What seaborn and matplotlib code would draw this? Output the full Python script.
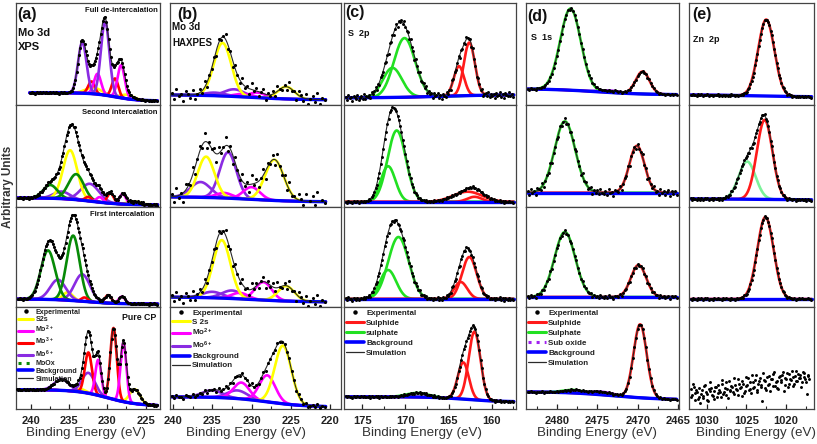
import numpy as np
import matplotlib
matplotlib.use("Agg")
import matplotlib.pyplot as plt
import seaborn as sns
from matplotlib.lines import Line2D
from matplotlib.ticker import MultipleLocator

sns.set_style("white")
plt.rcParams['font.family'] = ['Liberation Sans', 'DejaVu Sans']
plt.rcParams['mathtext.default'] = 'regular'

W, H = 817, 444

# ---------------- colours ----------------
COL = {"S2s": "#FFFF00", "Mo2": "#FF00FF", "Mo3": "#FF0000", "Mo6": "#8A2BE2",
       "MoOx": "#078A07", "sulphide": "#FF1A1A", "sulphate": "#22E022",
       "suboxide": "#A020F0", "Zn1": "#FF1A1A", "Zn2": "#7CF29A"}
BG_COL = "#0000FF"
SIM_COL = "#2a2a2a"

# ---------------- data (peak: component, centre eV, height, FWHM eV) ----------------
# background: (level at high BE, level at low BE, step centre, step width)
A1_PEAKS = [("S2s", 231.8, 0.06, 2.5), ("S2s", 227.4, 0.04, 2.0),
            ("Mo3", 232.1, 0.12, 1.0), ("Mo3", 229.0, 0.18, 1.0),
            ("Mo2", 231.3, 0.20, 1.1), ("Mo2", 228.2, 0.32, 1.1),
            ("Mo6", 233.3, 0.50, 1.3), ("Mo6", 230.3, 0.72, 1.3)]
A1_BG = (0.12, 0.04, 229.0, 1.5)
A2_PEAKS = [("Mo6", 236.0, 0.07, 2.5), ("Mo6", 232.3, 0.17, 2.8),
            ("S2s", 234.9, 0.48, 2.2), ("S2s", 226.5, 0.03, 2.0),
            ("MoOx", 237.5, 0.13, 2.2), ("MoOx", 234.1, 0.25, 2.4),
            ("Mo3", 232.5, 0.04, 1.0), ("Mo3", 229.6, 0.10, 1.0),
            ("Mo2", 231.0, 0.05, 1.0), ("Mo2", 228.0, 0.10, 1.0)]
A2_BG = (0.09, 0.02, 232.0, 2.0)
A3_PEAKS = [("S2s", 235.2, 0.08, 1.5),
            ("Mo6", 236.5, 0.20, 2.4), ("Mo6", 233.3, 0.27, 2.4),
            ("MoOx", 237.8, 0.49, 2.2), ("MoOx", 234.5, 0.65, 2.0),
            ("Mo3", 233.0, 0.04, 1.0), ("Mo3", 229.9, 0.08, 1.0),
            ("Mo2", 228.1, 0.07, 1.0)]
A3_BG = (0.08, 0.03, 233.0, 2.0)
A4_PEAKS = [("S2s", 226.4, 0.14, 1.6), ("S2s", 233.5, 0.03, 1.5),
            ("Mo6", 236.0, 0.11, 2.3), ("Mo6", 232.5, 0.20, 2.0),
            ("Mo3", 232.5, 0.40, 1.1), ("Mo3", 229.2, 0.70, 1.0),
            ("Mo2", 231.2, 0.35, 0.9), ("Mo2", 227.9, 0.58, 0.9)]
A4_BG = (0.19, 0.03, 230.0, 2.0)

B1_PEAKS = [("Mo6", 234.7, 0.03, 3.0), ("Mo6", 232.2, 0.07, 3.0),
            ("Mo2", 229.3, 0.05, 2.5), ("Mo2", 231.0, 0.03, 2.5),
            ("S2s", 233.7, 0.52, 2.6), ("S2s", 225.6, 0.12, 2.5)]
B1_BG = (0.10, 0.05, 230.0, 3.0)
B2_PEAKS = [("Mo6", 236.5, 0.15, 3.0), ("Mo6", 233.0, 0.45, 2.5),
            ("Mo2", 230.0, 0.12, 2.5), ("Mo2", 233.5, 0.05, 2.5),
            ("S2s", 235.8, 0.40, 2.5), ("S2s", 227.1, 0.40, 2.8)]
B2_BG = (0.10, 0.05, 230.0, 3.0)
B3_PEAKS = [("Mo6", 235.0, 0.06, 3.0), ("Mo6", 232.5, 0.08, 3.0),
            ("Mo2", 228.5, 0.18, 2.5), ("Mo2", 231.5, 0.06, 2.5),
            ("S2s", 233.8, 0.58, 2.6), ("S2s", 225.6, 0.15, 2.5)]
B3_BG = (0.10, 0.05, 230.0, 3.0)
B4_PEAKS = [("Mo6", 231.8, 0.08, 3.0), ("Mo6", 235.0, 0.07, 3.0),
            ("Mo2", 228.0, 0.26, 2.4), ("Mo2", 231.3, 0.16, 2.4),
            ("S2s", 226.0, 0.57, 2.5)]
B4_BG = (0.12, 0.02, 228.0, 2.5)

C1_PEAKS = [("sulphate", 170.1, 0.58, 2.9), ("sulphate", 171.5, 0.29, 2.6),
            ("sulphide", 162.6, 0.52, 1.5), ("sulphide", 163.8, 0.29, 1.4)]
C1_BG = (0.07, 0.10, 166.0, 3.0)
C2_PEAKS = [("sulphate", 171.0, 0.70, 2.5), ("sulphate", 172.0, 0.35, 2.0),
            ("sulphide", 162.8, 0.10, 4.0), ("sulphide", 162.0, 0.05, 2.0)]
C2_BG = (0.05, 0.05, 166.0, 3.0)
C3_PEAKS = [("sulphate", 170.8, 0.62, 2.8), ("sulphate", 172.0, 0.29, 2.2),
            ("sulphide", 162.6, 0.42, 2.0), ("sulphide", 163.6, 0.17, 1.8)]
C3_BG = (0.08, 0.08, 166.0, 3.0)
C4_PEAKS = [("sulphate", 168.6, 0.04, 3.0),
            ("sulphide", 162.0, 0.67, 1.6), ("sulphide", 163.3, 0.36, 1.5)]
C4_BG = (0.12, 0.07, 163.0, 2.0)

D1_PEAKS = [("suboxide", 2473.5, 0.02, 3.0), ("sulphate", 2478.3, 0.80, 3.0),
            ("sulphide", 2469.4, 0.22, 2.0)]
D1_BG = (0.16, 0.10, 2475.0, 3.0)
D2_PEAKS = [("sulphate", 2479.0, 0.70, 3.0), ("sulphide", 2470.1, 0.46, 2.2)]
D2_BG = (0.14, 0.14, 2475.0, 3.0)
D3_PEAKS = [("sulphate", 2479.0, 0.65, 3.0), ("sulphide", 2469.9, 0.32, 2.2)]
D3_BG = (0.10, 0.10, 2475.0, 3.0)
D4_PEAKS = [("sulphate", 2478.0, 0.03, 3.0), ("suboxide", 2474.5, 0.03, 3.5),
            ("sulphide", 2469.7, 0.72, 1.9)]
D4_BG = (0.17, 0.09, 2473.0, 3.0)

E1_PEAKS = [("Zn1", 1022.5, 0.75, 2.4)]
E1_BG = (0.10, 0.08, 1024.0, 3.0)
E2_PEAKS = [("Zn2", 1024.9, 0.37, 2.5), ("Zn1", 1022.7, 0.78, 2.3)]
E2_BG = (0.08, 0.07, 1024.0, 3.0)
E3_PEAKS = [("Zn1", 1022.6, 0.82, 2.4)]
E3_BG = (0.08, 0.08, 1024.0, 3.0)
E4_DOTS = [0.20, 0.14, 0.22, 0.09, 0.17, 0.12, 0.06, 0.19, 0.11, 0.24, 0.15, 0.08,
           0.18, 0.21, 0.13, 0.10, 0.22, 0.16, 0.19, 0.12, 0.25, 0.17, 0.14, 0.20,
           0.27, 0.18, 0.22, 0.15, 0.24, 0.19, 0.29, 0.21, 0.13, 0.25, 0.18, 0.23,
           0.30, 0.20, 0.16, 0.26, 0.22, 0.33, 0.19, 0.27, 0.24, 0.08, 0.28, 0.21,
           0.31, 0.25, 0.18, 0.29, 0.34, 0.23, 0.27, 0.20, 0.32, 0.26, 0.36, 0.24,
           0.29, 0.22, 0.34, 0.28, 0.31, 0.25, 0.37, 0.27, 0.30, 0.33, 0.26, 0.35,
           0.29, 0.15, 0.32, 0.38]
E4_DOTS_B = [0.12, 0.25, 0.16, 0.19, 0.10, 0.21, 0.15, 0.13, 0.23, 0.17, 0.09, 0.20,
             0.26, 0.14, 0.18, 0.22, 0.12, 0.24, 0.17, 0.28, 0.15, 0.21, 0.26, 0.11,
             0.19, 0.23, 0.17, 0.30, 0.20, 0.14, 0.25, 0.22, 0.27, 0.16, 0.31, 0.24,
             0.19, 0.26, 0.33, 0.21, 0.28, 0.17, 0.25, 0.30, 0.22, 0.35, 0.27, 0.19,
             0.24, 0.32, 0.29, 0.23, 0.36, 0.26, 0.21, 0.31, 0.28, 0.33, 0.18, 0.30,
             0.35, 0.25, 0.29, 0.37, 0.23, 0.32, 0.27, 0.34, 0.30, 0.22, 0.36, 0.31,
             0.26, 0.33, 0.29]

# hand-read scatter of experimental dots around the fit (relative units)
DOT_SCATTER = [0.3, -0.5, 0.8, -0.2, 0.1, -0.9, 0.6, 0.2, -0.4, 0.7, -0.7, 0.0,
               0.5, -0.3, 0.9, -0.6, 0.2, -0.1, 0.4, -0.8, 0.6, -0.2, 0.1, 0.8,
               -0.5, 0.3, -0.9, 0.5, 0.0, -0.4, 0.7, -0.3, 0.2, -0.7, 0.9, -0.1,
               0.4, -0.6, 0.1, 0.6, -0.8, 0.3, -0.2, 0.5, -0.5, 0.8, 0.0, -0.3]

# energy ranges of measured data (start, stop, step) and scatter amplitude per row
A_RANGES = [(240.2, 223.4, 0.15), (241.8, 223.4, 0.15), (241.8, 223.4, 0.15), (241.9, 223.4, 0.15)]
A_NOISE = [0.008, 0.012, 0.008, 0.008]
B_RANGES = [(240.2, 220.5, 0.3)] * 4
B_NOISE = [0.07, 0.10, 0.07, 0.025]
C_RANGES = [(176.9, 157.4, 0.15)] * 4
C_NOISE = [0.035, 0.012, 0.02, 0.01]
D_RANGES = [(2483.6, 2465.2, 0.2)] * 4
D_NOISE = [0.01, 0.04, 0.02, 0.008]
E_RANGES = [(1032.0, 1016.8, 0.15)] * 3 + [(1032.0, 1017.0, 0.2)]
E_NOISE = [0.01, 0.015, 0.01, 0.0]

XLIMS = [(242.0, 223.1), (240.4, 218.6), (177.1, 157.2), (2483.8, 2464.9), (1032.2, 1016.5)]
XTICKS = [[240, 235, 230, 225], [240, 235, 230, 225, 220], [175, 170, 165, 160],
          [2480, 2475, 2470, 2465], [1030, 1025, 1020]]

# ---------------- layout (pixels) ----------------
COLS_PX = [(16, 160), (170, 341), (344, 516), (526, 679), (689, 814)]
ROWS_PX = [(3, 105), (105, 207), (207, 307), (307, 409)]

PANELS = [
    [(A1_PEAKS, A1_BG), (A2_PEAKS, A2_BG), (A3_PEAKS, A3_BG), (A4_PEAKS, A4_BG)],
    [(B1_PEAKS, B1_BG), (B2_PEAKS, B2_BG), (B3_PEAKS, B3_BG), (B4_PEAKS, B4_BG)],
    [(C1_PEAKS, C1_BG), (C2_PEAKS, C2_BG), (C3_PEAKS, C3_BG), (C4_PEAKS, C4_BG)],
    [(D1_PEAKS, D1_BG), (D2_PEAKS, D2_BG), (D3_PEAKS, D3_BG), (D4_PEAKS, D4_BG)],
    [(E1_PEAKS, E1_BG), (E2_PEAKS, E2_BG), (E3_PEAKS, E3_BG), ([], None)],
]
RANGES = [A_RANGES, B_RANGES, C_RANGES, D_RANGES, E_RANGES]
NOISES = [A_NOISE, B_NOISE, C_NOISE, D_NOISE, E_NOISE]
DOT_SIZES = [5, 5, 4.5, 4.5, 4.5]


def peak(E, c, h, fwhm):
    return h * np.exp(-4 * np.log(2) * ((E - c) / fwhm) ** 2)


def background(E, bg):
    left, right, c, w = bg
    return right + (left - right) / (1 + np.exp(-(E - c) / w))


fig = plt.figure(figsize=(W / 100, H / 100), dpi=100)
fig.patch.set_facecolor("white")


def ftxt(x, y, s, **kw):
    fig.text(x / W, 1 - y / H, s, **kw)


axes = {}
for ci, (x0, x1) in enumerate(COLS_PX):
    for ri, (y0, y1) in enumerate(ROWS_PX):
        ax = fig.add_axes([x0 / W, 1 - y1 / H, (x1 - x0) / W, (y1 - y0) / H])
        axes[(ci, ri)] = ax
        ax.set_xlim(*XLIMS[ci])
        ax.set_ylim(0, 1)
        ax.set_yticks([])
        for sp in ax.spines.values():
            sp.set_color("#444444")
            sp.set_linewidth(0.9)
        peaks, bg = PANELS[ci][ri]
        e0, e1, de = RANGES[ci][ri]
        E = np.arange(e0, e1, -0.05)
        Ed = np.arange(e0, e1, -de)
        if bg is not None:
            base = background(E, bg)
            total = base.copy()
            for comp, c, h, fw in peaks:
                y = base + peak(E, c, h, fw)
                total += peak(E, c, h, fw)
                sns.lineplot(x=E, y=y, ax=ax, color=COL[comp], linewidth=1.9,
                             estimator=None, sort=False, legend=False)
            sns.lineplot(x=E, y=base, ax=ax, color=BG_COL, linewidth=2.4,
                         estimator=None, sort=False, legend=False)
            sns.lineplot(x=E, y=total, ax=ax, color=SIM_COL, linewidth=0.8,
                         estimator=None, sort=False, legend=False)
            yd = background(Ed, bg)
            for comp, c, h, fw in peaks:
                yd = yd + peak(Ed, c, h, fw)
            sc = np.resize(np.array(DOT_SCATTER), len(Ed)) * NOISES[ci][ri]
            yd = yd + sc
        else:
            n1 = min(len(Ed), len(E4_DOTS))
            n2 = min(len(Ed), len(E4_DOTS_B))
            Ed = np.concatenate([Ed[:n1], Ed[:n2] - 0.1])
            yd = np.concatenate([np.array(E4_DOTS[:n1]), np.array(E4_DOTS_B[:n2])])
        sns.scatterplot(x=Ed, y=yd, ax=ax, color="black", s=DOT_SIZES[ci], linewidth=0,
                        legend=False, zorder=5)
        ax.set_xlabel("")
        ax.set_ylabel("")
        if ri == 3:
            ax.set_xticks(XTICKS[ci])
            ax.xaxis.set_minor_locator(MultipleLocator(2.5))
            ax.tick_params(axis="x", which="major", direction="in", length=3.5,
                           width=0.9, labelsize=8, pad=5, colors="#222222", bottom=True)
            ax.tick_params(axis="x", which="minor", direction="in", length=2.5,
                           width=0.8, bottom=True)
            for lab in ax.get_xticklabels():
                lab.set_fontweight("bold")
        else:
            ax.set_xticks([])

# ---------------- legends ----------------
def dot_handle():
    return Line2D([], [], marker="o", ms=2.2, color="black", ls="none")


def line_handle(c, lw=2.2, ls="-"):
    return Line2D([], [], color=c, lw=lw, ls=ls)


leg_kw = dict(loc="upper left", frameon=False, handletextpad=0.3, borderaxespad=0.15,
              borderpad=0.1, handlelength=2.2)

axes[(0, 3)].legend(
    handles=[dot_handle(), line_handle(COL["S2s"]), line_handle(COL["Mo2"]),
             line_handle(COL["Mo3"]), line_handle(COL["Mo6"]),
             line_handle(COL["MoOx"], ls=":"), line_handle(BG_COL, 2.6),
             line_handle(SIM_COL, 0.9)],
    labels=["Experimental", "S2s", "Mo$^{2+}$", "Mo$^{3+}$", "Mo$^{6+}$", "MoOx",
            "Background", "Simulation"],
    fontsize=5.1, labelspacing=0.1, **leg_kw)

axes[(1, 3)].legend(
    handles=[dot_handle(), line_handle(COL["S2s"]), line_handle(COL["Mo2"]),
             line_handle(COL["Mo6"]), line_handle(BG_COL, 2.6), line_handle(SIM_COL, 0.9)],
    labels=["Experimental", "S 2s", "Mo$^{2+}$", "Mo$^{6+}$", "Background", "Simulation"],
    fontsize=5.8, labelspacing=0.18, **leg_kw)

axes[(2, 3)].legend(
    handles=[dot_handle(), line_handle(COL["sulphide"]), line_handle(COL["sulphate"]),
             line_handle(BG_COL, 2.6), line_handle(SIM_COL, 0.9)],
    labels=["Experimental", "Sulphide", "sulphate", "Background", "Simulation"],
    fontsize=5.8, labelspacing=0.3, **leg_kw)

axes[(3, 3)].legend(
    handles=[dot_handle(), line_handle(COL["sulphide"]), line_handle(COL["sulphate"]),
             line_handle(COL["suboxide"], ls=":"), line_handle(BG_COL, 2.6),
             line_handle(SIM_COL, 0.9)],
    labels=["Experimental", "Sulphide", "Sulphate", "Sub oxide", "Background", "Simulation"],
    fontsize=5.8, labelspacing=0.3, **leg_kw)

for ax in axes.values():
    leg = ax.get_legend()
    if leg is not None:
        for t in leg.get_texts():
            t.set_fontweight("bold")
            t.set_color("#222222")

# ---------------- texts ----------------
bold = dict(fontweight="bold", color="#111111")
ftxt(17, 15, "(a)", fontsize=11.5, va="center", ha="left", **bold)
ftxt(18, 33, "Mo 3d", fontsize=8, va="center", ha="left", **bold)
ftxt(18, 47, "XPS", fontsize=8, va="center", ha="left", **bold)
ftxt(158, 11, "Full de-intercalation", fontsize=5.5, va="center", ha="right", **bold)
ftxt(157, 113, "Second intercalation", fontsize=5.5, va="center", ha="right", **bold)
ftxt(155, 214, "First intercalation", fontsize=5.5, va="center", ha="right", **bold)
ftxt(156, 317, "Pure CP", fontsize=6.3, va="center", ha="right", **bold)

ftxt(177, 14, "(b)", fontsize=11.5, va="center", ha="left", **bold)
ftxt(172, 27, "Mo 3d", fontsize=7, va="center", ha="left", **bold)
ftxt(172, 43, "HAXPES", fontsize=7, va="center", ha="left", **bold)

ftxt(345, 13, "(c)", fontsize=11.5, va="center", ha="left", **bold)
ftxt(348, 33, "S  2p", fontsize=6.5, va="center", ha="left", **bold)

ftxt(527, 16, "(d)", fontsize=11.5, va="center", ha="left", **bold)
ftxt(531, 38, "S  1s", fontsize=6.5, va="center", ha="left", **bold)

ftxt(692, 15, "(e)", fontsize=11.5, va="center", ha="left", **bold)
ftxt(693, 39, "Zn  2p", fontsize=6.5, va="center", ha="left", **bold)

ftxt(8, 187, "Arbitrary Units", fontsize=8.5, rotation=90, va="center", ha="center",
     fontweight="bold", color="#333333")

for xc in [86, 246, 422, 597, 756]:
    ftxt(xc, 433, "Binding Energy (eV)", fontsize=9.6, va="center", ha="center",
         color="#333333")

fig.savefig("out.png", dpi=100, facecolor="white")
